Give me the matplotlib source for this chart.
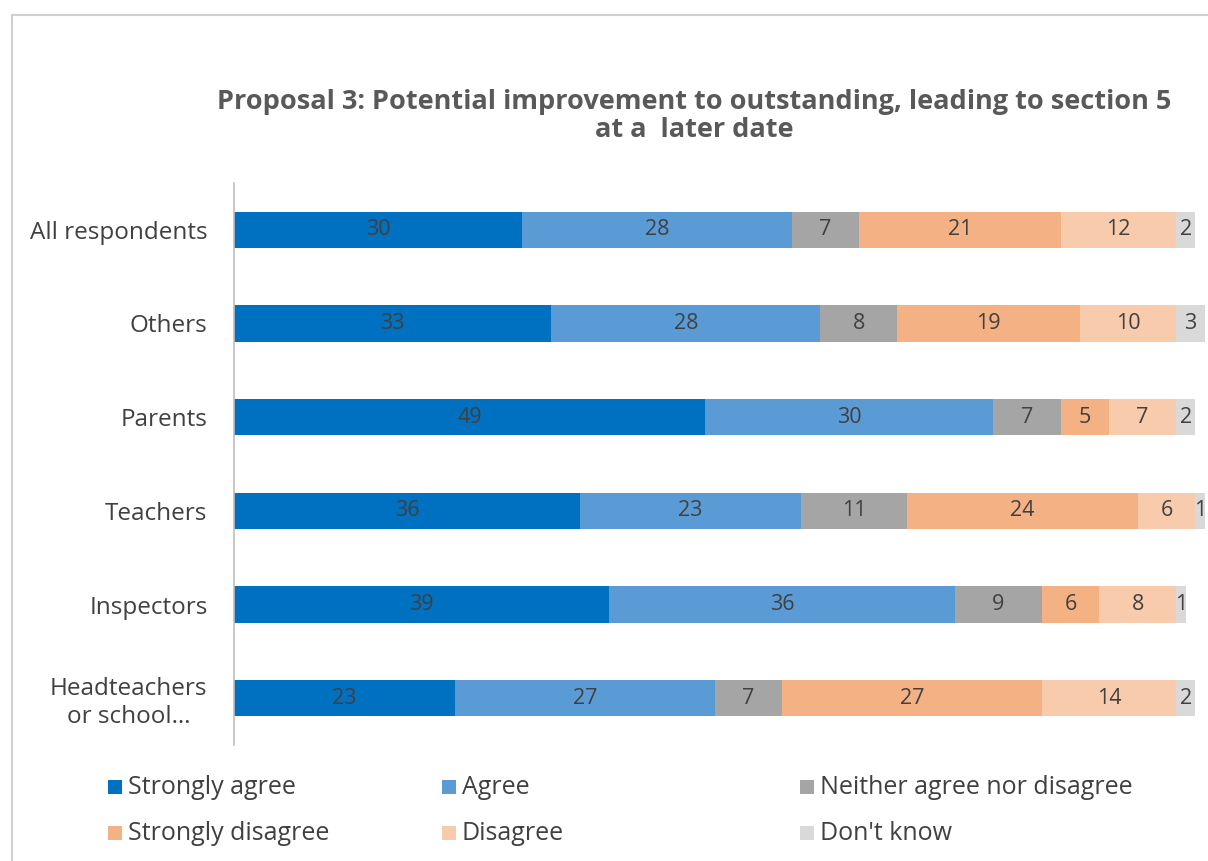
import numpy as np
import matplotlib
matplotlib.use('Agg')
import matplotlib.pyplot as plt
from matplotlib.patches import Rectangle
from matplotlib.lines import Line2D

plt.rcParams['font.family'] = ['Open Sans', 'DejaVu Sans']

groups = ['All respondents', 'Others', 'Parents', 'Teachers', 'Inspectors',
          'Headteachers\nor school…']
responses = ['Strongly agree', 'Agree', 'Neither agree nor disagree',
             'Strongly disagree', 'Disagree', "Don't know"]
colors = ['#0070C0', '#5B9BD5', '#A5A5A5', '#F4B183', '#F8CBAD', '#D9D9D9']

strongly_agree    = [30, 33, 49, 36, 39, 23]
agree             = [28, 28, 30, 23, 36, 27]
neither           = [7, 8, 7, 11, 9, 7]
strongly_disagree = [21, 19, 5, 24, 6, 27]
disagree          = [12, 10, 7, 6, 8, 14]
dont_know         = [2, 3, 2, 1, 1, 2]

series = [strongly_agree, agree, neither, strongly_disagree, disagree, dont_know]

W, H = 1208, 861
fig = plt.figure(figsize=(W / 100, H / 100), dpi=100)
ax = fig.add_axes([234 / W, 1 - 745 / H, 971 / W, 562 / H])

y = np.arange(len(groups))
left = np.zeros(len(groups))
for vals, col in zip(series, colors):
    vals = np.array(vals, dtype=float)
    bars = ax.barh(y, vals, left=left, height=0.39, color=col, linewidth=0)
    ax.bar_label(bars, labels=[str(int(v)) for v in vals], label_type='center',
                 color='#404040', fontsize=15.5)
    left += vals

ax.set_xlim(0, 101)
ax.set_ylim(len(groups) - 0.5, -0.5)
ax.set_yticks(y)
ax.set_yticklabels(groups, fontsize=17.5, color='#404040', multialignment='center')
ax.tick_params(axis='y', length=0, pad=19)
ax.set_xticks([])
for s in ['top', 'right', 'bottom']:
    ax.spines[s].set_visible(False)
ax.spines['left'].set_color('#BFBFBF')
ax.spines['left'].set_linewidth(1.2)

fig.text(694 / W, 1 - 116 / H,
         'Proposal 3: Potential improvement to outstanding, leading to section 5\nat a  later date',
         ha='center', va='center', fontsize=19.5, fontweight='bold', color='#595959',
         linespacing=1.12)

# outer chart frame
fig.add_artist(Line2D([12 / W, 12 / W], [0, 1 - 15 / H],
                      transform=fig.transFigure, color='#D0D0D0', linewidth=1.5))
fig.add_artist(Line2D([12 / W, 1], [1 - 15 / H, 1 - 15 / H],
                      transform=fig.transFigure, color='#D0D0D0', linewidth=1.5))

# legend, laid out in rows like the spreadsheet one
col_x = [108, 442, 800]
row_y = [787, 833]
for i, (name, col) in enumerate(zip(responses, colors)):
    cx = col_x[i % 3]
    cy = row_y[i // 3]
    fig.add_artist(Rectangle((cx / W, 1 - (cy + 7) / H), 14 / W, 14 / H,
                             transform=fig.transFigure, facecolor=col, edgecolor='none'))
    fig.text((cx + 20) / W, 1 - cy / H, name, ha='left', va='center',
             fontsize=18, color='#404040')

fig.savefig('out.png', dpi=100)
